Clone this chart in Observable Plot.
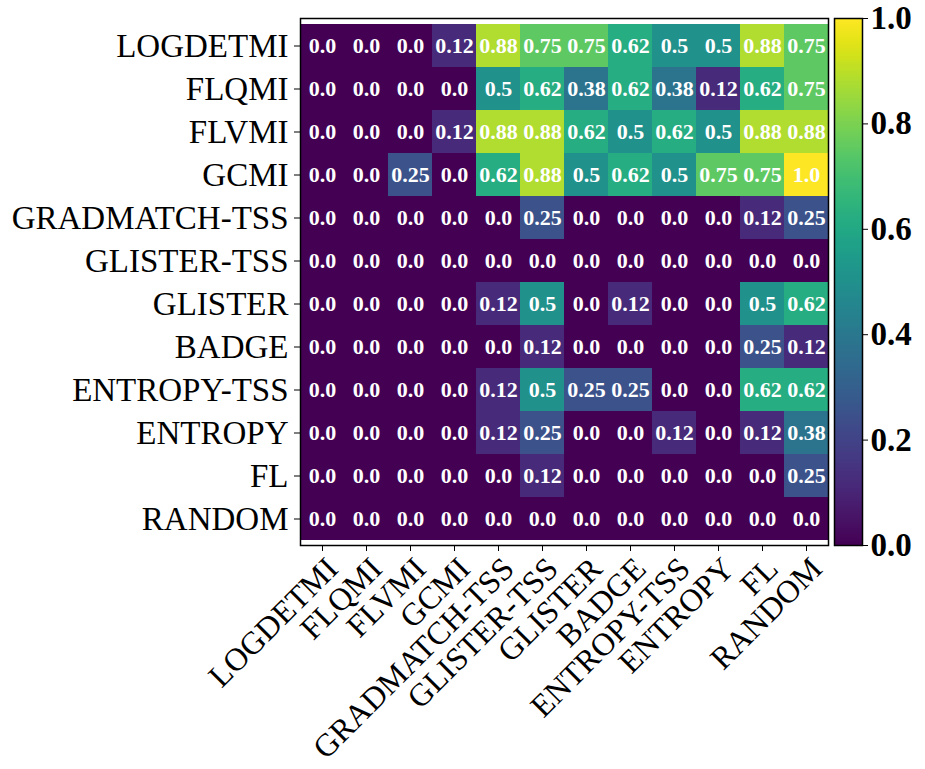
<!DOCTYPE html>
<html><head><meta charset="utf-8">
<script src="https://cdn.jsdelivr.net/npm/d3@7"></script>
<script src="https://cdn.jsdelivr.net/npm/@observablehq/plot@0.6"></script>
<style>
body{margin:0;background:#fff;}
#wrap{position:relative;width:925px;height:769px;overflow:hidden;}
#wrap svg{position:absolute;top:0;overflow:visible;}
</style>
</head><body><div id="wrap"></div>
<script>
// Row / column categories (same list for both axes)
const methods = ["LOGDETMI","FLQMI","FLVMI","GCMI","GRADMATCH-TSS","GLISTER-TSS","GLISTER","BADGE","ENTROPY-TSS","ENTROPY","FL","RANDOM"];

// Cell values, one array per row (columns in the order of `methods`)
const rowLOGDETMI     = [0,0,0,0.12,0.88,0.75,0.75,0.62,0.5,0.5,0.88,0.75];
const rowFLQMI        = [0,0,0,0,0.5,0.62,0.38,0.62,0.38,0.12,0.62,0.75];
const rowFLVMI        = [0,0,0,0.12,0.88,0.88,0.62,0.5,0.62,0.5,0.88,0.88];
const rowGCMI         = [0,0,0.25,0,0.62,0.88,0.5,0.62,0.5,0.75,0.75,1.0];
const rowGRADMATCHTSS = [0,0,0,0,0,0.25,0,0,0,0,0.12,0.25];
const rowGLISTERTSS   = [0,0,0,0,0,0,0,0,0,0,0,0];
const rowGLISTER      = [0,0,0,0,0.12,0.5,0,0.12,0,0,0.5,0.62];
const rowBADGE        = [0,0,0,0,0,0.12,0,0,0,0,0.25,0.12];
const rowENTROPYTSS   = [0,0,0,0,0.12,0.5,0.25,0.25,0,0,0.62,0.62];
const rowENTROPY      = [0,0,0,0,0.12,0.25,0,0,0.12,0,0.12,0.38];
const rowFL           = [0,0,0,0,0,0.12,0,0,0,0,0,0.25];
const rowRANDOM       = [0,0,0,0,0,0,0,0,0,0,0,0];

const colorbarTicks = [0,0.2,0.4,0.6,0.8,1.0];

const rows = [rowLOGDETMI,rowFLQMI,rowFLVMI,rowGCMI,rowGRADMATCHTSS,rowGLISTERTSS,
              rowGLISTER,rowBADGE,rowENTROPYTSS,rowENTROPY,rowFL,rowRANDOM];
const table = [];
rows.forEach((r,i)=>r.forEach((v,j)=>table.push({row:methods[i], col:methods[j], value:v})));
const fmt = v => Number.isInteger(Math.round(v*1000)/100) ? v.toFixed(1) : v.toFixed(2);

const FONT = "'Liberation Serif', 'DejaVu Serif', serif";

const heat = Plot.plot({
  width: 925, height: 769,
  marginLeft: 300, marginRight: 97, marginTop: 18, marginBottom: 224,
  style: {fontFamily: FONT, fontSize: "33px", color: "#000", background: "transparent"},
  x: {domain: methods, padding: 0, label: null},
  y: {domain: methods, padding: 0, label: null, tickSize: 6, tickPadding: 6},
  color: {type: "linear", scheme: "viridis", domain: [0,1]},
  marks: [
    Plot.cell(table, {x: "col", y: "row", fill: "value", inset: 0, shapeRendering: "crispEdges"}),
    Plot.text(table, {x: "col", y: "row", text: d => fmt(d.value), fill: "white",
      fontWeight: "bold", fontSize: 22, fontFamily: FONT}),
    Plot.frame({stroke: "black", strokeWidth: 1.5}),
    Plot.axisX({tickSize: 6, tickFormat: () => "", label: null}),
    Plot.axisX({tickSize: 0, tickRotate: -45, tickPadding: 4, dx: 10, dy: 14, fontSize: 32, label: null})
  ]
});

const stops = d3.range(0, 1, 0.004);
const bar = Plot.plot({
  width: 92, height: 769,
  marginLeft: 1, marginRight: 63, marginTop: 18, marginBottom: 224,
  style: {fontFamily: FONT, fontSize: "33px", fontWeight: "bold", color: "#000", background: "transparent"},
  x: {domain: [0,1], axis: null},
  y: {domain: [0,1], axis: "right", ticks: colorbarTicks, tickFormat: d3.format(".1f"), label: null, tickSize: 5, tickPadding: 3},
  color: {type: "linear", scheme: "viridis", domain: [0,1]},
  marks: [
    Plot.rect(stops, {x1: 0, x2: 1, y1: d => d, y2: d => Math.min(1, d + 0.006), fill: d => d + 0.002, shapeRendering: "crispEdges"}),
    Plot.frame({stroke: "black", strokeWidth: 1.5})
  ]
});
bar.style.left = "833px";

const wrap = document.getElementById("wrap");
heat.style.left = "0px";
wrap.appendChild(heat);
wrap.appendChild(bar);
</script>
</body></html>
